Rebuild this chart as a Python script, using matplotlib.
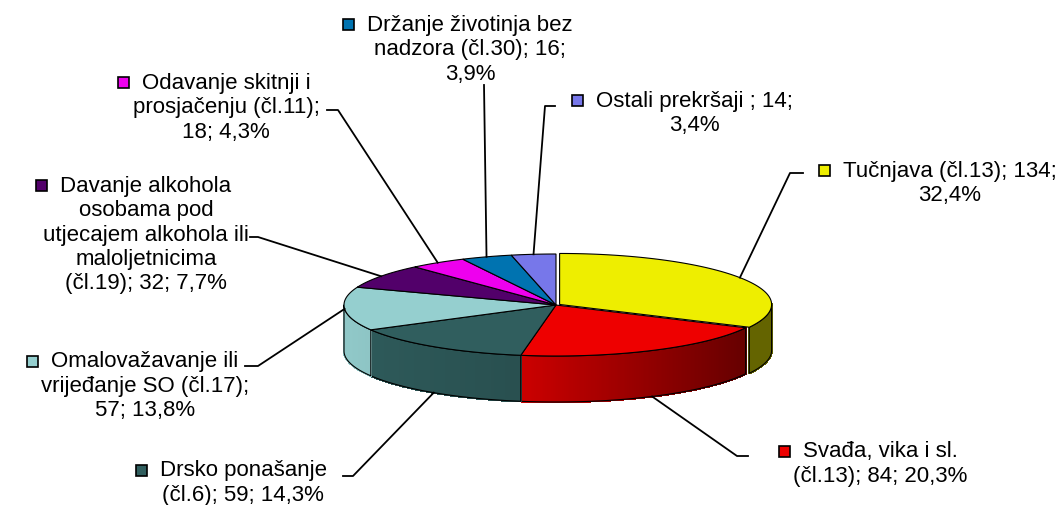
import numpy as np
import matplotlib
matplotlib.use("Agg")
import matplotlib.pyplot as plt
from matplotlib.patches import Polygon, Rectangle
from matplotlib.collections import PolyCollection
from matplotlib.colors import to_rgb

plt.rcParams['font.family'] = ['Liberation Sans', 'DejaVu Sans']

categories = [
    "Tučnjava (čl.13)",
    "Svađa, vika i sl. (čl.13)",
    "Drsko ponašanje (čl.6)",
    "Omalovažavanje ili vrijeđanje SO (čl.17)",
    "Davanje alkohola osobama pod utjecajem alkohola ili maloljetnicima (čl.19)",
    "Odavanje skitnji i prosjačenju (čl.11)",
    "Držanje životinja bez nadzora (čl.30)",
    "Ostali prekršaji ",
]
counts = [134, 84, 59, 57, 32, 18, 16, 14]
colors = ['#EEEE00', '#EE0000', '#305E5E', '#95CFCF',
          '#52006A', '#EE00EE', '#0073B0', '#7777EA']

# layout of the labels (how Excel wrapped them and where they sit)
words_per_line = [[3, 1], [4, 3], [2, 3], [2, 3, 2], [2, 2, 3, 1, 3],
                  [3, 2, 2], [3, 3, 1], [4, 1]]
label_pos = [(950, 171), (880, 452), (243, 471), (145, 362),
             (146, 186), (226, 83), (470, 25), (694, 101)]
leader_pts = [[(803, 174), (790, 174)], [(748, 457), (737, 457)],
              [(343, 477), (353, 477)], [(245, 367), (258, 367)],
              [(250, 238), (258, 238)], [(327, 111), (338, 111)],
              [(484, 86)], [(555, 107), (545, 107)]]
explode = [0.02, 0, 0, 0, 0, 0, 0, 0]

W, H = 1062, 506
CX, CY, RX, RY, DEPTH = 556, 306, 212, 51, 46
LINE_H = 24.5


def ell(theta, off=(0, 0), drop=0.0):
    t = np.radians(theta)
    return CX + RX * np.cos(t) + off[0], CY - RY * np.sin(t) + off[1] + drop


def shade(x):
    u = (x - (CX - RX)) / (2 * RX)
    return np.interp(u, [0, 0.44, 0.96, 1], [0.97, 0.84, 0.42, 0.42])


fig = plt.figure(figsize=(W / 100, H / 100), dpi=100)
ax = fig.add_axes([0, 0, 1, 1])
ax.set_xlim(0, W)
ax.set_ylim(H, 0)
ax.axis('off')

total = sum(counts)
fracs = np.array(counts) / total
ends = 90 - 360 * np.cumsum(fracs)
starts = ends + 360 * fracs
mids = (starts + ends) / 2

offsets = []
for i in range(len(counts)):
    m = np.radians(mids[i])
    offsets.append((explode[i] * RX * np.cos(m), -explode[i] * RY * np.sin(m)))

# side walls of the front half, shaded darker to the right
for i in range(len(counts)):
    lo, hi = max(ends[i], -180), min(starts[i], 0)
    if hi <= lo:
        continue
    off = offsets[i]
    th = np.linspace(lo, hi, max(2, int((hi - lo) / 0.5) + 1))
    base = np.array(to_rgb(colors[i]))
    polys, cols = [], []
    for a, b in zip(th[:-1], th[1:]):
        p1, p2 = ell(a, off), ell(b, off)
        polys.append([p1, p2, (p2[0], p2[1] + DEPTH), (p1[0], p1[1] + DEPTH)])
        cols.append(np.clip(base * shade((p1[0] + p2[0]) / 2), 0, 1))
    ax.add_collection(PolyCollection(polys, facecolors=cols, edgecolors=cols,
                                     linewidths=1.0, antialiaseds=False))
    top = [ell(a, off) for a in th]
    bot = [ell(a, off, DEPTH) for a in th[::-1]]
    ax.add_patch(Polygon(top + bot, closed=True, fill=False, edgecolor='black', lw=0.8))

# top faces
for i in range(len(counts)):
    off = offsets[i]
    th = np.linspace(starts[i], ends[i], max(2, int((starts[i] - ends[i]) / 0.5) + 1))
    pts = [(CX + off[0], CY + off[1])] + [ell(a, off) for a in th]
    ax.add_patch(Polygon(pts, closed=True, facecolor=colors[i], edgecolor='black', lw=0.8))

# labels, keys and leader lines
fig.canvas.draw()
renderer = fig.canvas.get_renderer()
inv = ax.transData.inverted()
for i, cat in enumerate(categories):
    pct = f"{100 * counts[i] / total:.1f}".replace('.', ',') + '%'
    words = f"{cat}; {counts[i]}; {pct}".split()
    lines, k = [], 0
    for n in words_per_line[i]:
        lines.append(' '.join(words[k:k + n]))
        k += n
    x0, y0 = label_pos[i]
    first = None
    for j, line in enumerate(lines):
        t = ax.text(x0, y0 + j * LINE_H, line, ha='center', va='center',
                    fontsize=16, color='black')
        if j == 0:
            first = t
    bb = first.get_window_extent(renderer=renderer)
    left = inv.transform((bb.x0, bb.y0))[0]
    ax.add_patch(Rectangle((left - 24, y0 - 5.5), 11, 11, facecolor=colors[i],
                           edgecolor='black', lw=1.2))

    m = mids[i]
    drop = DEPTH if np.sin(np.radians(m)) < -0.5 else 0
    anchor = ell(m, offsets[i], drop)
    pts = leader_pts[i] + [anchor]
    ax.plot([p[0] for p in pts], [p[1] for p in pts], color='black', lw=1.3)

fig.savefig('out.png', dpi=100)
